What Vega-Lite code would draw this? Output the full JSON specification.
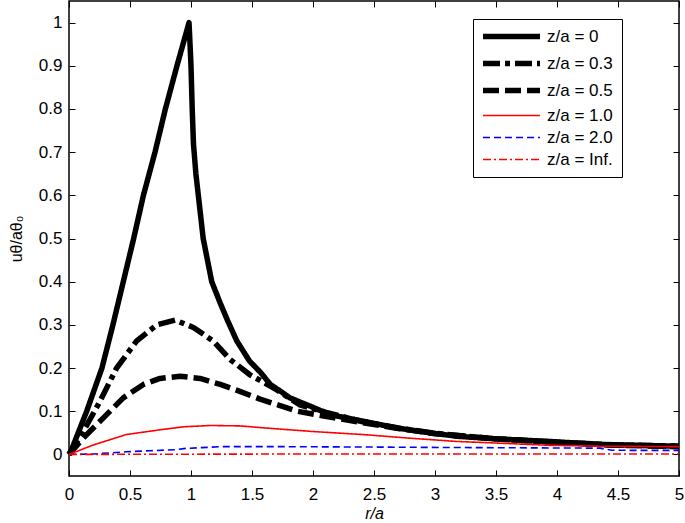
{
  "$schema": "https://vega.github.io/schema/vega-lite/v6.json",
  "width": 610,
  "height": 475,
  "autosize": {"type": "none"},
  "padding": {"left": 69, "top": 1, "right": 6, "bottom": 47},
  "background": "white",
  "config": {
    "font": "Liberation Sans",
    "view": {"stroke": "black", "strokeWidth": 1.5},
    "axis": {"grid": false, "domain": false, "tickColor": "black", "tickSize": -6, "tickWidth": 1, "labelFontSize": 17, "labelColor": "black", "titleColor": "black", "titleFontWeight": "normal", "titleFontSize": 16, "labelFont": "Liberation Sans", "titleFont": "Liberation Sans"}
  },
  "data": {"values": [
    {"s": "z/a = 0", "x": 0, "y": 0},
    {"s": "z/a = 0", "x": 0.02, "y": 0.01},
    {"s": "z/a = 0", "x": 0.145, "y": 0.1},
    {"s": "z/a = 0", "x": 0.27, "y": 0.2},
    {"s": "z/a = 0", "x": 0.36, "y": 0.3},
    {"s": "z/a = 0", "x": 0.445, "y": 0.4},
    {"s": "z/a = 0", "x": 0.53, "y": 0.5},
    {"s": "z/a = 0", "x": 0.61, "y": 0.6},
    {"s": "z/a = 0", "x": 0.705, "y": 0.7},
    {"s": "z/a = 0", "x": 0.79, "y": 0.8},
    {"s": "z/a = 0", "x": 0.885, "y": 0.9},
    {"s": "z/a = 0", "x": 0.984, "y": 1.0},
    {"s": "z/a = 0", "x": 1.0, "y": 0.9},
    {"s": "z/a = 0", "x": 1.01, "y": 0.8},
    {"s": "z/a = 0", "x": 1.02, "y": 0.72},
    {"s": "z/a = 0", "x": 1.04, "y": 0.65},
    {"s": "z/a = 0", "x": 1.06, "y": 0.6},
    {"s": "z/a = 0", "x": 1.1, "y": 0.5},
    {"s": "z/a = 0", "x": 1.17, "y": 0.4},
    {"s": "z/a = 0", "x": 1.24, "y": 0.35},
    {"s": "z/a = 0", "x": 1.3, "y": 0.31},
    {"s": "z/a = 0", "x": 1.375, "y": 0.263},
    {"s": "z/a = 0", "x": 1.48, "y": 0.216},
    {"s": "z/a = 0", "x": 1.57, "y": 0.19},
    {"s": "z/a = 0", "x": 1.65, "y": 0.162},
    {"s": "z/a = 0", "x": 1.73, "y": 0.147},
    {"s": "z/a = 0", "x": 1.81, "y": 0.131},
    {"s": "z/a = 0", "x": 1.975, "y": 0.112},
    {"s": "z/a = 0", "x": 2.14, "y": 0.092},
    {"s": "z/a = 0", "x": 2.41, "y": 0.077},
    {"s": "z/a = 0", "x": 2.69, "y": 0.061},
    {"s": "z/a = 0", "x": 2.96, "y": 0.05},
    {"s": "z/a = 0", "x": 3.18, "y": 0.042},
    {"s": "z/a = 0", "x": 3.5, "y": 0.036},
    {"s": "z/a = 0", "x": 3.94, "y": 0.03},
    {"s": "z/a = 0", "x": 4.35, "y": 0.023},
    {"s": "z/a = 0", "x": 5, "y": 0.019},

    {"s": "z/a = 0.3", "x": 0, "y": 0},
    {"s": "z/a = 0.3", "x": 0.117, "y": 0.053},
    {"s": "z/a = 0.3", "x": 0.254, "y": 0.123},
    {"s": "z/a = 0.3", "x": 0.39, "y": 0.2},
    {"s": "z/a = 0.3", "x": 0.555, "y": 0.263},
    {"s": "z/a = 0.3", "x": 0.72, "y": 0.3},
    {"s": "z/a = 0.3", "x": 0.87, "y": 0.311},
    {"s": "z/a = 0.3", "x": 1.02, "y": 0.294},
    {"s": "z/a = 0.3", "x": 1.18, "y": 0.263},
    {"s": "z/a = 0.3", "x": 1.32, "y": 0.22},
    {"s": "z/a = 0.3", "x": 1.48, "y": 0.185},
    {"s": "z/a = 0.3", "x": 1.7, "y": 0.15},
    {"s": "z/a = 0.3", "x": 1.89, "y": 0.115},
    {"s": "z/a = 0.3", "x": 2.1, "y": 0.098},
    {"s": "z/a = 0.3", "x": 2.4, "y": 0.076},
    {"s": "z/a = 0.3", "x": 2.7, "y": 0.061},
    {"s": "z/a = 0.3", "x": 3, "y": 0.049},
    {"s": "z/a = 0.3", "x": 3.5, "y": 0.036},
    {"s": "z/a = 0.3", "x": 4, "y": 0.028},
    {"s": "z/a = 0.3", "x": 4.5, "y": 0.022},
    {"s": "z/a = 0.3", "x": 5, "y": 0.019},

    {"s": "z/a = 0.5", "x": 0, "y": 0},
    {"s": "z/a = 0.5", "x": 0.117, "y": 0.038},
    {"s": "z/a = 0.5", "x": 0.28, "y": 0.084},
    {"s": "z/a = 0.5", "x": 0.445, "y": 0.131},
    {"s": "z/a = 0.5", "x": 0.61, "y": 0.162},
    {"s": "z/a = 0.5", "x": 0.746, "y": 0.176},
    {"s": "z/a = 0.5", "x": 0.91, "y": 0.181},
    {"s": "z/a = 0.5", "x": 1.074, "y": 0.176},
    {"s": "z/a = 0.5", "x": 1.24, "y": 0.162},
    {"s": "z/a = 0.5", "x": 1.4, "y": 0.146},
    {"s": "z/a = 0.5", "x": 1.566, "y": 0.128},
    {"s": "z/a = 0.5", "x": 1.73, "y": 0.113},
    {"s": "z/a = 0.5", "x": 1.87, "y": 0.1},
    {"s": "z/a = 0.5", "x": 2.1, "y": 0.088},
    {"s": "z/a = 0.5", "x": 2.4, "y": 0.074},
    {"s": "z/a = 0.5", "x": 2.7, "y": 0.06},
    {"s": "z/a = 0.5", "x": 3, "y": 0.048},
    {"s": "z/a = 0.5", "x": 3.5, "y": 0.036},
    {"s": "z/a = 0.5", "x": 4, "y": 0.028},
    {"s": "z/a = 0.5", "x": 4.5, "y": 0.021},
    {"s": "z/a = 0.5", "x": 5, "y": 0.018},

    {"s": "z/a = 1.0", "x": 0, "y": 0},
    {"s": "z/a = 1.0", "x": 0.2, "y": 0.022},
    {"s": "z/a = 1.0", "x": 0.47, "y": 0.046},
    {"s": "z/a = 1.0", "x": 0.746, "y": 0.057},
    {"s": "z/a = 1.0", "x": 0.94, "y": 0.064},
    {"s": "z/a = 1.0", "x": 1.16, "y": 0.067},
    {"s": "z/a = 1.0", "x": 1.4, "y": 0.066},
    {"s": "z/a = 1.0", "x": 1.62, "y": 0.061},
    {"s": "z/a = 1.0", "x": 2.0, "y": 0.053},
    {"s": "z/a = 1.0", "x": 2.41, "y": 0.046},
    {"s": "z/a = 1.0", "x": 2.82, "y": 0.037},
    {"s": "z/a = 1.0", "x": 3.18, "y": 0.03},
    {"s": "z/a = 1.0", "x": 3.53, "y": 0.026},
    {"s": "z/a = 1.0", "x": 3.94, "y": 0.021},
    {"s": "z/a = 1.0", "x": 4.35, "y": 0.019},
    {"s": "z/a = 1.0", "x": 5, "y": 0.018},

    {"s": "z/a = 2.0", "x": 0, "y": 0},
    {"s": "z/a = 2.0", "x": 0.2, "y": 0.001},
    {"s": "z/a = 2.0", "x": 0.47, "y": 0.006},
    {"s": "z/a = 2.0", "x": 0.66, "y": 0.0085},
    {"s": "z/a = 2.0", "x": 0.88, "y": 0.011},
    {"s": "z/a = 2.0", "x": 0.96, "y": 0.014},
    {"s": "z/a = 2.0", "x": 1.26, "y": 0.018},
    {"s": "z/a = 2.0", "x": 1.73, "y": 0.018},
    {"s": "z/a = 2.0", "x": 2.5, "y": 0.017},
    {"s": "z/a = 2.0", "x": 3.1, "y": 0.016},
    {"s": "z/a = 2.0", "x": 4.35, "y": 0.0145},
    {"s": "z/a = 2.0", "x": 4.45, "y": 0.0095},
    {"s": "z/a = 2.0", "x": 5, "y": 0.0093},

    {"s": "z/a = Inf.", "x": 0, "y": 0},
    {"s": "z/a = Inf.", "x": 1, "y": 0.0005},
    {"s": "z/a = Inf.", "x": 2, "y": 0.001},
    {"s": "z/a = Inf.", "x": 3, "y": 0.001},
    {"s": "z/a = Inf.", "x": 4, "y": 0.001},
    {"s": "z/a = Inf.", "x": 5, "y": 0.001}
  ]},
  "layer": [
    {
      "mark": {"type": "line", "strokeCap": "butt", "strokeJoin": "round"},
      "encoding": {
        "x": {"field": "x", "type": "quantitative", "scale": {"domain": [0, 5], "nice": false, "zero": false},
              "axis": {"orient": "bottom", "values": [0, 0.5, 1, 1.5, 2, 2.5, 3, 3.5, 4, 4.5, 5], "labelExpr": "datum.value", "labelPadding": 16, "title": "r/a", "titleFontStyle": "italic", "titlePadding": 3, "labelFlush": false}},
        "y": {"field": "y", "type": "quantitative", "scale": {"domain": [-0.05, 1.05], "nice": false, "zero": false},
              "axis": {"orient": "left", "values": [0, 0.1, 0.2, 0.3, 0.4, 0.5, 0.6, 0.7, 0.8, 0.9, 1], "labelExpr": "datum.value", "labelPadding": 13, "title": "uθ/aθ₀", "titlePadding": 14}},
        "color": {"field": "s", "type": "nominal", "title": null,
                  "scale": {"domain": ["z/a = 0", "z/a = 0.3", "z/a = 0.5", "z/a = 1.0", "z/a = 2.0", "z/a = Inf."], "range": ["black", "black", "black", "#ff0000", "#0000ff", "#ff0000"]},
                  "legend": {"orient": "none", "legendX": 404, "legendY": 18, "strokeColor": "black", "fillColor": "white", "padding": 9, "symbolType": "M-5,0H5", "symbolSize": 130, "symbolOffset": 21, "labelFontSize": 17, "labelColor": "black", "labelOffset": 27, "rowPadding": 4, "labelLimit": 200}},
        "strokeDash": {"field": "s", "type": "nominal", "title": null,
                  "scale": {"domain": ["z/a = 0", "z/a = 0.3", "z/a = 0.5", "z/a = 1.0", "z/a = 2.0", "z/a = Inf."], "range": [[1, 0], [17, 5, 5, 5], [16, 6], [1, 0], [7, 4], [8, 3, 2, 3]]}},
        "strokeWidth": {"field": "s", "type": "nominal", "title": null,
                  "scale": {"type": "ordinal", "domain": ["z/a = 0", "z/a = 0.3", "z/a = 0.5", "z/a = 1.0", "z/a = 2.0", "z/a = Inf."], "range": [5.5, 5.5, 5.5, 1.6, 1.6, 1.6]}}
      }
    },
    {
      "mark": {"type": "line", "opacity": 0},
      "encoding": {
        "x": {"field": "x", "type": "quantitative", "axis": {"orient": "top", "values": [0, 0.5, 1, 1.5, 2, 2.5, 3, 3.5, 4, 4.5, 5], "labels": false, "title": null}},
        "y": {"field": "y", "type": "quantitative", "axis": {"orient": "right", "values": [0, 0.1, 0.2, 0.3, 0.4, 0.5, 0.6, 0.7, 0.8, 0.9, 1], "labels": false, "title": null}}
      }
    }
  ],
  "resolve": {"axis": {"x": "independent", "y": "independent"}}
}
